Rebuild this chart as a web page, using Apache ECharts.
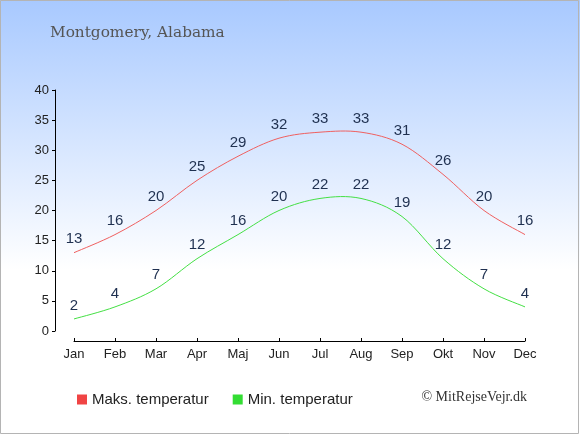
<!DOCTYPE html>
<html>
<head>
<meta charset="utf-8">
<script src="https://cdn.jsdelivr.net/npm/echarts@6/dist/echarts.min.js"></script>
<style>
html,body{margin:0;padding:0;background:#fff;}
#c{width:580px;height:435px;}
</style>
</head>
<body>
<div id="c"></div>
<script>
const months = ['Jan','Feb','Mar','Apr','Maj','Jun','Jul','Aug','Sep','Okt','Nov','Dec'];
const maxTemp = [13,16,20,25,29,32,33,33,31,26,20,16];
const minTemp = [2,4,7,12,16,20,22,22,19,12,7,4];
const yTicks = {min:0, max:40, interval:5};
const titleText = 'Montgomery, Alabama';
const creditText = '© MitRejseVejr.dk';
const seriesNames = ['Maks. temperatur','Min. temperatur'];

const chart = echarts.init(document.getElementById('c'));
const labelStyle = {show:true, position:'top', distance:6, color:'#1f3050', fontSize:15, fontFamily:'Liberation Sans, Arial, sans-serif'};

// Catmull-Rom curve segments drawn through the axis scales (api.coord)
function curveSeries(values, color) {
  return {
    type:'custom', name:'curve-'+color, silent:true, clip:false, z:3,
    data: values.map((v,i)=>[i,v]),
    encode:{x:0,y:1},
    renderItem: function(params, api) {
      const i = params.dataIndex, n = values.length;
      if (i >= n-1) return null;
      const P = k => { const j = Math.max(0, Math.min(n-1, k)); return api.coord([j, values[j]]); };
      const p0 = P(i-1), p1 = P(i), p2 = P(i+1), p3 = P(i+2);
      return {
        type:'bezierCurve',
        shape:{
          x1:p1[0], y1:p1[1], x2:p2[0], y2:p2[1],
          cpx1:p1[0]+(p2[0]-p0[0])/6, cpy1:p1[1]+(p2[1]-p0[1])/6,
          cpx2:p2[0]-(p3[0]-p1[0])/6, cpy2:p2[1]-(p3[1]-p1[1])/6
        },
        style:{stroke:color, lineWidth:1, fill:null}
      };
    }
  };
}

chart.setOption({
  animation:false,
  backgroundColor:{type:'linear',x:0,y:0,x2:0,y2:1,colorStops:[{offset:0,color:'#a8c9ff'},{offset:0.62,color:'#ffffff'},{offset:1,color:'#ffffff'}]},
  title:{text:titleText,left:45,top:21,textStyle:{fontFamily:'DejaVu Serif, serif',fontWeight:'normal',fontSize:15.3,color:'#555555'}},
  graphic:[
    {type:'rect',shape:{x:0.5,y:0.5,width:578,height:433},style:{fill:'none',stroke:'#b4b4b4',lineWidth:1},silent:true},
    {type:'text',right:53,top:390,style:{text:creditText,font:'14px "Liberation Serif", serif',fill:'#333'}}
  ],
  legend:{left:72,top:387,itemWidth:10,itemHeight:10,itemGap:24,icon:'rect',
    textStyle:{fontSize:15,color:'#222',fontFamily:'Liberation Sans, Arial, sans-serif'},
    data:[{name:seriesNames[0],itemStyle:{color:'#f04444',opacity:1}},{name:seriesNames[1],itemStyle:{color:'#33dd33',opacity:1}}]},
  grid:{left:74,right:55,top:90,bottom:104,containLabel:false},
  xAxis:{type:'category',data:months,boundaryGap:false,offset:10,
    axisLine:{onZero:false,lineStyle:{color:'#000',width:1}},
    axisTick:{inside:true,length:3,lineStyle:{color:'#000'}},
    axisLabel:{color:'#222',fontSize:13,margin:7,fontFamily:'Liberation Sans, Arial, sans-serif'},
    splitLine:{show:false}},
  yAxis:{type:'value',min:yTicks.min,max:yTicks.max,interval:yTicks.interval,offset:19,
    axisLine:{show:true,onZero:false,lineStyle:{color:'#000',width:1}},
    axisTick:{show:true,length:3,lineStyle:{color:'#000'}},
    axisLabel:{color:'#222',fontSize:13,margin:6,fontFamily:'Liberation Sans, Arial, sans-serif'},
    splitLine:{show:false}},
  series:[
    {name:seriesNames[0],type:'line',data:maxTemp,symbol:'circle',symbolSize:0,showSymbol:true,
     itemStyle:{color:'#f04444'},lineStyle:{color:'#f06060',width:1,opacity:0},label:labelStyle},
    {name:seriesNames[1],type:'line',data:minTemp,symbol:'circle',symbolSize:0,showSymbol:true,
     itemStyle:{color:'#33dd33'},lineStyle:{color:'#44e044',width:1,opacity:0},label:labelStyle},
    curveSeries(maxTemp,'#f06060'),
    curveSeries(minTemp,'#44e044')
  ]
});
</script>
</body>
</html>
